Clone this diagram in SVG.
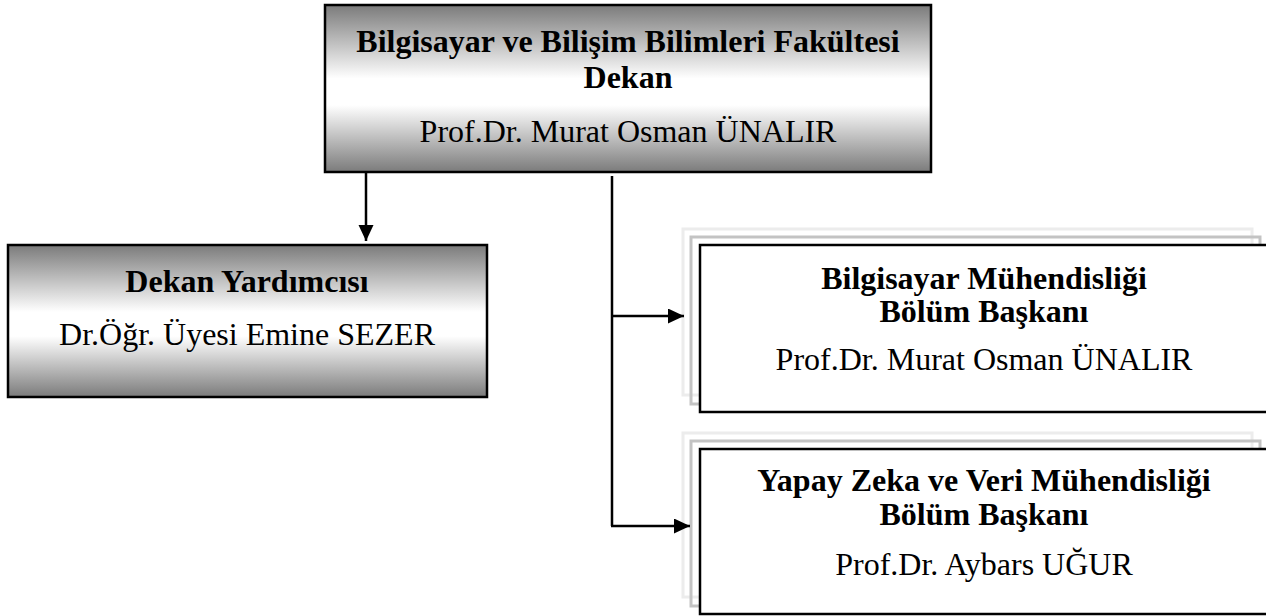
<svg xmlns="http://www.w3.org/2000/svg" width="1266" height="616" viewBox="0 0 1266 616">
<defs>
<linearGradient id="g" x1="0" y1="0" x2="0" y2="1">
<stop offset="0" stop-color="#7b7b7b"/>
<stop offset="0.44" stop-color="#ffffff"/>
<stop offset="0.6" stop-color="#ffffff"/>
<stop offset="1" stop-color="#7b7b7b"/>
</linearGradient>
<marker id="arr" markerUnits="userSpaceOnUse" markerWidth="18" markerHeight="16" refX="16" refY="7.5" orient="auto">
<path d="M0,0 L16,7.5 L0,15 Z" fill="#000"/>
</marker>
<style>
.grad{fill:url(#g);stroke:#000;stroke-width:2.5}
.f1{fill:none;stroke:#ececec;stroke-width:3}
.f2{fill:none;stroke:#c3c3c3;stroke-width:3}
.box{fill:#fff;stroke:#000;stroke-width:2.5}
.b{font-family:"Liberation Serif","Times New Roman",serif;font-weight:bold;font-size:32px;fill:#000;text-anchor:middle}
.r{font-family:"Liberation Serif","Times New Roman",serif;font-size:32px;fill:#000;text-anchor:middle}
.c{fill:none;stroke:#000;stroke-width:2.5}
</style>
</defs>
<g id="dekan">
<rect class="grad" x="325" y="5" width="606" height="167"/>
<text class="b" x="628" y="52">Bilgisayar ve Bilişim Bilimleri Fakültesi</text>
<text class="b" x="628" y="88">Dekan</text>
<text class="r" x="628" y="142">Prof.Dr. Murat Osman ÜNALIR</text>
</g>
<g id="dekan-yardimcisi">
<rect class="grad" x="8" y="245" width="479" height="152"/>
<text class="b" x="247" y="292">Dekan Yardımcısı</text>
<text class="r" x="247" y="345">Dr.Öğr. Üyesi Emine SEZER</text>
</g>
<g id="bilgisayar">
<rect class="f1" x="683" y="229" width="569" height="166"/>
<rect class="f2" x="691" y="237" width="569" height="167"/>
<rect class="box" x="700" y="245" width="568" height="167"/>
<text class="b" x="984" y="289">Bilgisayar Mühendisliği</text>
<text class="b" x="984" y="322">Bölüm Başkanı</text>
<text class="r" x="984" y="370">Prof.Dr. Murat Osman ÜNALIR</text>
</g>
<g id="yapay-zeka">
<rect class="f1" x="683" y="433" width="569" height="164"/>
<rect class="f2" x="691" y="441" width="569" height="165"/>
<rect class="box" x="700" y="449" width="568" height="165"/>
<text class="b" x="984" y="491">Yapay Zeka ve Veri Mühendisliği</text>
<text class="b" x="984" y="525">Bölüm Başkanı</text>
<text class="r" x="984" y="575">Prof.Dr. Aybars UĞUR</text>
</g>
<g id="connectors">
<path class="c" d="M366,173 V241" marker-end="url(#arr)"/>
<path class="c" d="M612,176 V526"/>
<path class="c" d="M611,316 H684" marker-end="url(#arr)"/>
<path class="c" d="M611,526 H690" marker-end="url(#arr)"/>
</g>
</svg>
